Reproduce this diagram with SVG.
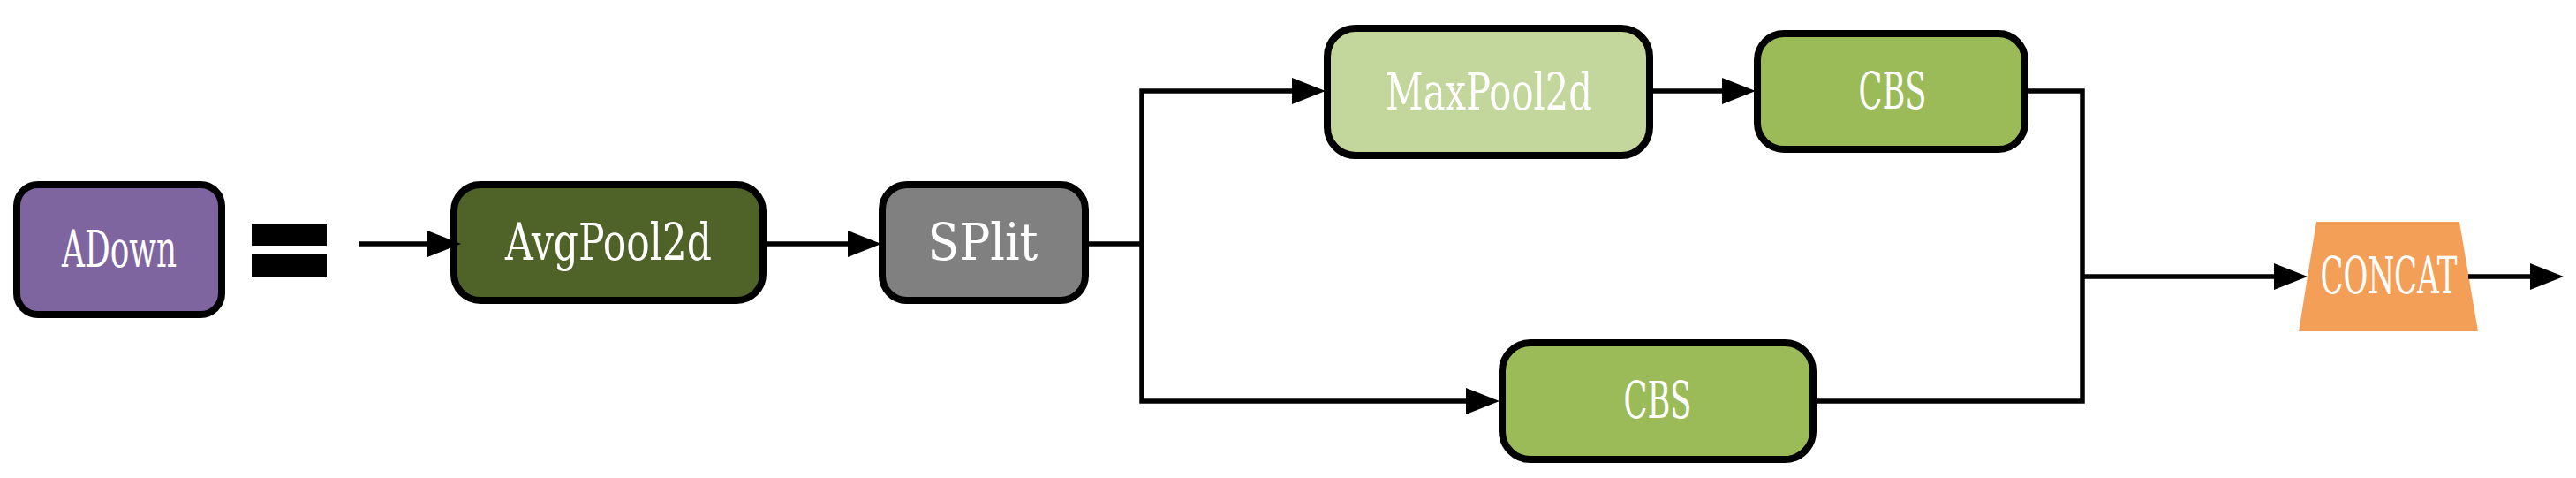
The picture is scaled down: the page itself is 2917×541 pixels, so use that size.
<svg xmlns="http://www.w3.org/2000/svg" xmlns:xlink="http://www.w3.org/1999/xlink" width="2917" height="541" viewBox="0 0 2917 541">
<style>
.node{stroke:#000;stroke-width:8}
.lbl{font-family:"DejaVu Serif","Liberation Serif",serif;font-size:58px;fill:#fff;text-anchor:middle}
.con{fill:none;stroke:#000;stroke-width:5.5;stroke-linejoin:miter}
</style>
<defs>
<path id="head" d="M-38,-15 L0,0 L-38,15 z" fill="#000"/>
</defs>
<rect width="2917" height="541" fill="#fff"/>
<g id="adown">
<rect class="node" x="19" y="209" width="232" height="147" rx="24" fill="#7F65A0"/>
<text class="lbl" x="135" y="302" textLength="130" lengthAdjust="spacingAndGlyphs">ADown</text>
</g>
<g id="equals">
<rect x="285" y="253" width="85" height="25" fill="#000"/>
<rect x="285" y="288" width="85" height="25" fill="#000"/>
</g>
<g id="avgpool">
<rect class="node" x="514" y="209" width="350" height="131" rx="30" fill="#4F6228"/>
<text class="lbl" x="689" y="294" textLength="234" lengthAdjust="spacingAndGlyphs">AvgPool2d</text>
</g>
<g id="split">
<rect class="node" x="999" y="209" width="230" height="131" rx="28" fill="#808080"/>
<text class="lbl" x="1113" y="294" textLength="125" lengthAdjust="spacingAndGlyphs">SPlit</text>
</g>
<g id="maxpool">
<rect class="node" x="1503" y="32" width="365" height="144" rx="32" fill="#C3D69B"/>
<text class="lbl" x="1686" y="124" textLength="234" lengthAdjust="spacingAndGlyphs">MaxPool2d</text>
</g>
<g id="cbs-top">
<rect class="node" x="1990" y="38" width="303" height="131" rx="30" fill="#9BBB59"/>
<text class="lbl" x="2143" y="123" textLength="77" lengthAdjust="spacingAndGlyphs">CBS</text>
</g>
<g id="cbs-bottom">
<rect class="node" x="1701" y="388" width="352" height="132" rx="32" fill="#9BBB59"/>
<text class="lbl" x="1877" y="473" textLength="77" lengthAdjust="spacingAndGlyphs">CBS</text>
</g>
<g id="concat">
<polygon points="2623,251 2785,251 2806,375 2603,375" fill="#F49F58"/>
<text class="lbl" x="2705" y="332" textLength="155" lengthAdjust="spacingAndGlyphs">CONCAT</text>
</g>
<g id="connectors">
<path class="con" d="M407,276 H488"/>
<use xlink:href="#head" x="522" y="276"/>
<path class="con" d="M868,276 H962"/>
<use xlink:href="#head" x="998" y="276"/>
<path class="con" d="M1233,276 H1293"/>
<path class="con" d="M1466,103 H1293 V454 H1663"/>
<use xlink:href="#head" x="1501" y="103"/>
<use xlink:href="#head" x="1698" y="454"/>
<path class="con" d="M1872,103 H1953"/>
<use xlink:href="#head" x="1988" y="103"/>
<path class="con" d="M2297,103 H2358 V454 H2057"/>
<path class="con" d="M2358,313 H2578"/>
<use xlink:href="#head" x="2613" y="313"/>
<path class="con" d="M2795,313 H2868"/>
<use xlink:href="#head" x="2903" y="313"/>
</g>
</svg>
